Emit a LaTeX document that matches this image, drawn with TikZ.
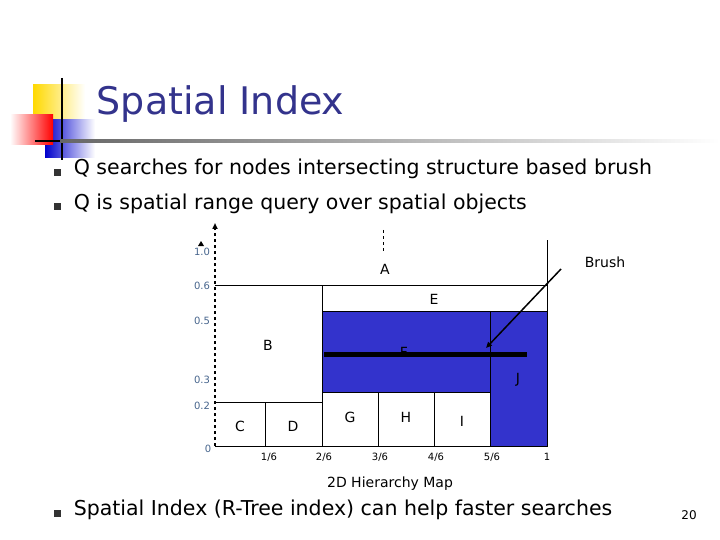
\documentclass[tikz,border=0pt]{standalone}
\usepackage{fontspec}
\setmainfont{DejaVu Sans}
\usetikzlibrary{arrows.meta}
\definecolor{ttl}{RGB}{51,51,140}
\definecolor{fb}{RGB}{51,51,204}
\definecolor{axl}{RGB}{70,100,140}
\begin{document}
\begin{tikzpicture}[x=1pt,y=-1pt,line width=1pt,
  lab/.style={font=\fontsize{14}{16}\selectfont},
  tick/.style={font=\fontsize{10}{12}\selectfont,text=axl},
  xt/.style={font=\fontsize{10}{12}\selectfont},
  bsq/.style={fill=black!80,minimum size=7pt,inner sep=0pt},
  bul/.style={font=\fontsize{20.5}{24}\selectfont,anchor=west}]
\useasboundingbox (0,0) rectangle (720,540);
% logo
\shade[left color=yellow!70!orange,right color=white] (33,85) rectangle (85,130);
\shade[left color=blue!80!black,right color=white] (45,120) rectangle (95,158);
\shade[left color=white,right color=red] (10,115) rectangle (53,145);
\draw[line width=1.5pt] (62,78) -- (62,160);
\draw[line width=1.5pt] (35,141) -- (95,141);
\shade[left color=gray!80!black,right color=white] (60,140) rectangle (720,142.5);
\node[anchor=west,text=ttl,font=\fontsize{38}{42}\selectfont] (title) at (93,104) {Spatial Index};
\node[bsq] (b1) at (57,173) {};
\node[bsq] (b2) at (57,207) {};
\node[bsq] (b3) at (57,513) {};
\node[bul] (t1) at (70,169) {Q searches for nodes intersecting structure based brush};
\node[bul] (t2) at (70,204) {Q is spatial range query over spatial objects};
\node[bul] (t3) at (70,510) {Spatial Index (R-Tree index) can help faster searches};
\node[font=\fontsize{12}{14}\selectfont] (pg) at (689,515) {20};
% diagram
\fill[fb] (322,311) rectangle (547,392);
\fill[fb] (490,392) rectangle (547,446);
\draw (215,446) -- (547,446) -- (547,240);
\draw (215,285) -- (547,285);
\draw (322,311) -- (547,311);
\draw (322,285) -- (322,446);
\draw (215,402) -- (322,402);
\draw (265,402) -- (265,446);
\draw (322,392) -- (490,392);
\draw (378,392) -- (378,446);
\draw (434,392) -- (434,446);
\draw (490,311) -- (490,446);
\draw[line width=1.5pt,dashed,-{Triangle[length=6pt,width=5pt]}] (215,446) -- (215,223);
\draw[dashed] (383,230) -- (383,252);
\fill (198,246) -- (201,241) -- (204,246) -- cycle;
\draw[line width=5pt] (324,354) -- (527,354);
\node[lab] (nb) at (605,262) {Brush};
\coordinate (bs) at (561,269);
\coordinate (be) at (486,348);
\draw[line width=1.5pt,-{Triangle[length=6pt,width=5pt]}] (bs) -- (be);
\node[lab] (A) at (385,269) {A};
\node[lab] (E) at (434,299) {E};
\node[lab] (B) at (268,345) {B};
\node[lab] (F) at (404,352) {F};
\node[lab] (J) at (518,380) {J};
\node[lab] (C) at (240,426) {C};
\node[lab] (D) at (293,426) {D};
\node[lab] (G) at (350,417) {G};
\node[lab] (H) at (406,417) {H};
\node[lab] (I) at (462,421) {I};
\node[tick] at (202,252) {1.0};
\node[tick] at (202,286) {0.6};
\node[tick] at (202,321) {0.5};
\node[tick] at (202,380) {0.3};
\node[tick] at (202,406) {0.2};
\node[tick] at (208,449) {0};
\node[xt] at (269,457) {1/6};
\node[xt] at (324,457) {2/6};
\node[xt] at (380,457) {3/6};
\node[xt] at (436,457) {4/6};
\node[xt] at (492,457) {5/6};
\node[xt] at (547,457) {1};
\node[font=\fontsize{14}{16}\selectfont] (cap) at (390,484) {2D Hierarchy Map};
\end{tikzpicture}
\end{document}
